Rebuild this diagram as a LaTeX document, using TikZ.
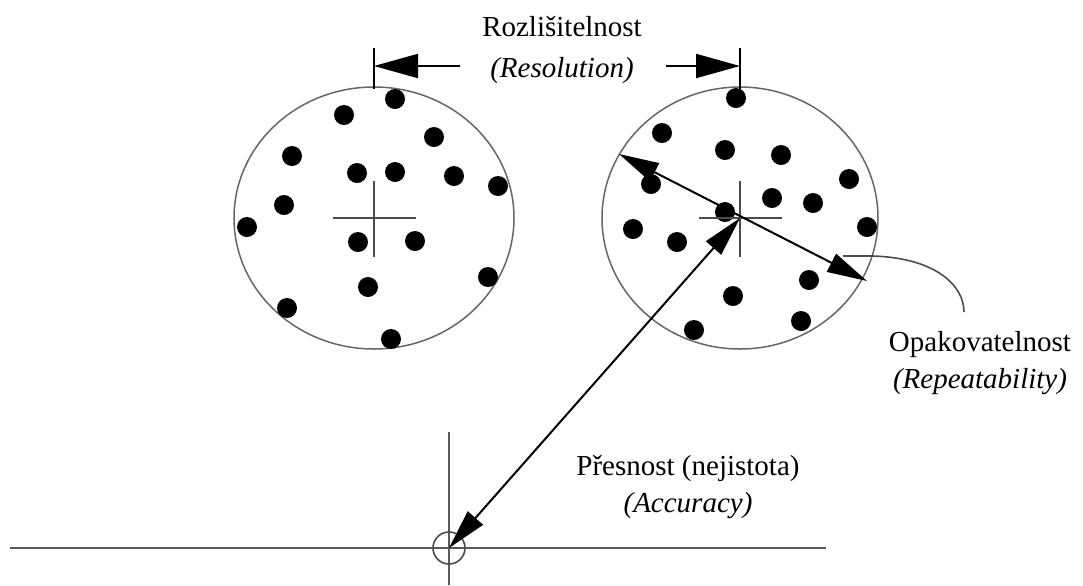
\documentclass[tikz,border=0pt]{standalone}
\usepackage{fontspec}
\setmainfont{Liberation Serif}
\usetikzlibrary{arrows.meta}

\begin{document}
\begin{tikzpicture}[x=0.5pt,y=-0.5pt,
 lbl/.style={font=\fontsize{14.5}{18.5}\selectfont,inner sep=0pt,align=center},
 rim/.style={draw=black!60,line width=0.75pt},
 hair/.style={draw=black!70,line width=0.8pt},
 axis/.style={draw=black!65,line width=0.9pt},
 dot/.style={fill=black},
 dim/.style={-{Triangle[length=22pt,width=12pt]},line width=1pt},
 meas/.style={{Triangle[length=20pt,width=10pt]}-{Triangle[length=20pt,width=10pt]},line width=1pt}]
\useasboundingbox (0,0) rectangle (1083,585);
\coordinate (cL) at (374,218);
\coordinate (cR) at (740,218);
\coordinate (org) at (449,548);
% target circles with hits
\draw[rim] (cL) ellipse [x radius=140, y radius=131];
\draw[rim] (cR) ellipse [x radius=138, y radius=131];
\foreach \p in {(395,99),(344,115),(434,137),(292,156),(357,173),(395,172),(454,176),(498,186),
 (284,205),(247,227),(358,242),(415,241),(488,277),(368,287),(287,308),(391,339)}
 \fill[dot] \p circle [radius=10];
\foreach \p in {(736,98),(662,133),(725,150),(781,155),(849,179),(651,184),(772,198),(813,203),
 (725,212),(867,227),(633,229),(677,242),(809,280),(733,296),(801,321),(694,330)}
 \fill[dot] \p circle [radius=10];
\draw[hair] (cL) ++(-41,0) -- ++(83,0) (cL) ++(0,-37) -- ++(0,76);
\draw[hair] (cR) ++(-41,0) -- ++(83,0) (cR) ++(0,-37) -- ++(0,76);
% resolution
\coordinate (tL) at (374,48);
\coordinate (bL) at (374,89);
\coordinate (tR) at (740,48);
\coordinate (bR) at (740,89);
\coordinate (dL) at (374,66);
\coordinate (dR) at (740,66);
\coordinate (sL) at (460,66);
\coordinate (sR) at (666,66);
\draw[line width=1pt] (tL) -- (bL);
\draw[line width=1pt] (tR) -- (bR);
\draw[dim] (sL) -- (dL);
\draw[dim] (sR) -- (dR);
\node[lbl,font=\fontsize{14.5}{20.5}\selectfont] (res) at (562,50) {Rozlišitelnost\\\textit{(Resolution)}};
% repeatability
\coordinate (rA) at (619,154);
\coordinate (rB) at (867,281);
\draw[meas] (rA) -- (rB);
\coordinate (rp) at (843,256);
\coordinate (rq) at (964,312);
\draw[hair] (rp) -- (873,256) .. controls (935,258) and (964,285) .. (rq);
\node[lbl] (rep) at (980,363) {Opakovatelnost\\\textit{(Repeatability)}};
% accuracy
\coordinate (axL) at (10,548);
\coordinate (axR) at (826,548);
\coordinate (axT) at (449,432);
\coordinate (axB) at (449,585);
\draw[axis] (axL) -- (axR);
\draw[axis] (axT) -- (axB);
\draw[hair] (org) circle [radius=16];
\draw[meas] (cR) -- (org);
\node[lbl] (acc) at (688,487) {Přesnost (nejistota)\\\textit{(Accuracy)}};
\end{tikzpicture}
\end{document}
